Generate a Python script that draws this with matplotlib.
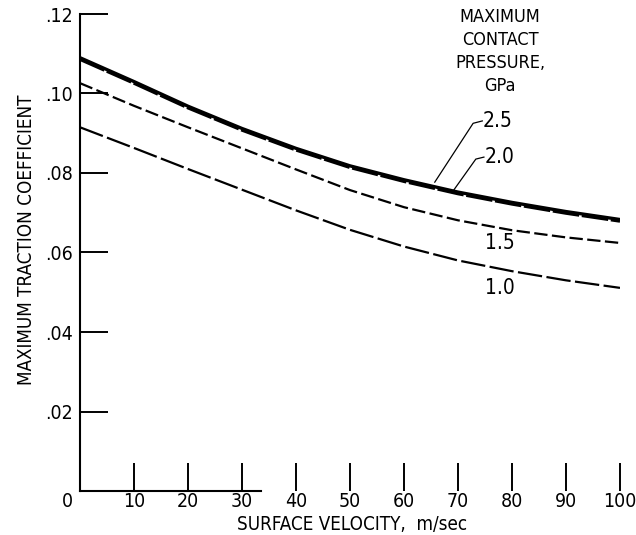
import matplotlib
matplotlib.use("Agg")
import matplotlib.pyplot as plt

plt.rcParams["font.family"] = ["DejaVu Sans"]
plt.rcParams["font.stretch"] = "condensed"

# surface velocity, m/sec
velocity = [0, 10, 20, 30, 40, 50, 60, 70, 80, 90, 100]

# maximum traction coefficient for each max contact pressure (GPa)
p25 = [0.1090, 0.1030, 0.0968, 0.0912, 0.0862, 0.0818, 0.0783, 0.0752, 0.0726, 0.0703, 0.0683]
p20 = [0.1086, 0.1026, 0.0964, 0.0908, 0.0858, 0.0814, 0.0779, 0.0748, 0.0722, 0.0699, 0.0679]
p15 = [0.1026, 0.0969, 0.0915, 0.0862, 0.0809, 0.0757, 0.0714, 0.0681, 0.0656, 0.0638, 0.0624]
p10 = [0.0915, 0.0863, 0.0810, 0.0758, 0.0706, 0.0657, 0.0615, 0.0580, 0.0553, 0.0530, 0.0511]

xticks = [10, 20, 30, 40, 50, 60, 70, 80, 90, 100]
yticks = [0.02, 0.04, 0.06, 0.08, 0.10, 0.12]
ylabels = [".02", ".04", ".06", ".08", ".10", ".12"]

fig = plt.figure(figsize=(6.36, 5.35), dpi=100)
ax = fig.add_axes([80 / 636, 44 / 535, 540 / 636, 477 / 535])

ax.plot(velocity, p25, color="black", lw=2.4, solid_capstyle="butt")
ax.plot(velocity, p20, color="black", lw=2.4, dashes=(8, 0.8))
ax.plot(velocity, p15, color="black", lw=1.6, dashes=(6, 2))
ax.plot(velocity, p10, color="black", lw=1.6, dashes=(11, 2))

ax.set_xlim(0, 100)
ax.set_ylim(0, 0.12)
ax.spines["top"].set_visible(False)
ax.spines["right"].set_visible(False)
ax.spines["bottom"].set_bounds(0, 33.5)
for s in ("left", "bottom"):
    ax.spines[s].set_linewidth(1.5)

ax.set_xticks(xticks)
ax.set_xticklabels([str(t) for t in xticks], fontsize=14)
ax.set_yticks(yticks)
ax.set_yticklabels(ylabels, fontsize=14)
ax.tick_params(direction="in", length=20, width=1.4)
ax.tick_params(axis="x", pad=1)
ax.tick_params(axis="y", pad=5)
ax.text(-2.4, -0.0003, "0", ha="center", va="top", fontsize=14)

ax.set_xlabel("SURFACE VELOCITY,  m/sec", fontsize=13.5)
ax.xaxis.set_label_coords(272 / 540, -24 / 477)
ax.set_ylabel("MAXIMUM TRACTION COEFFICIENT", fontsize=13.5)
ax.yaxis.set_label_coords(-44 / 540, 251 / 477)

ax.text(77.8, 0.1215, "MAXIMUM\nCONTACT\nPRESSURE,\nGPa", ha="center", va="top",
        fontsize=13, linespacing=1.35)

ax.plot([65.7, 72.8, 74.5], [0.0777, 0.0925, 0.0931], color="black", lw=0.9)
ax.text(74.6, 0.0931, "2.5", ha="left", va="center", fontsize=15)
ax.plot([69.0, 73.3, 74.8], [0.0753, 0.0835, 0.0840], color="black", lw=0.9)
ax.text(74.9, 0.0840, "2.0", ha="left", va="center", fontsize=15)
ax.text(77.8, 0.0624, "1.5", ha="center", va="center", fontsize=15)
ax.text(77.8, 0.0511, "1.0", ha="center", va="center", fontsize=15)

fig.savefig("out.png", dpi=100)
